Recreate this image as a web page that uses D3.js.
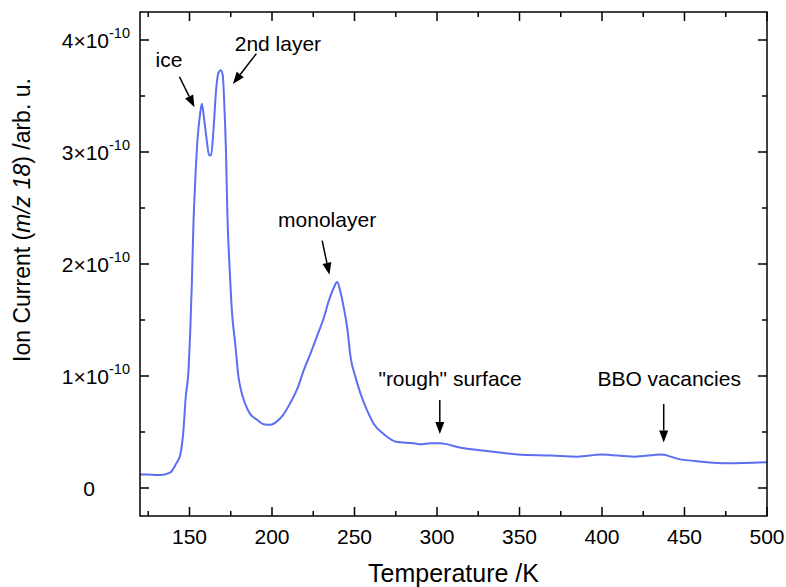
<!DOCTYPE html>
<html>
<head>
<meta charset="utf-8">
<script src="https://cdn.jsdelivr.net/npm/d3@7"></script>
<style>
  body { margin: 0; background: #fff; }
  text { font-family: "Liberation Sans", Arial, sans-serif; fill: #000; }
</style>
</head>
<body>
<svg width="786" height="587"></svg>
<script>
// temperature (K) and ion current (units of 1e-10, arb. u.)
const temps = [120, 125, 130, 135, 137, 139.2, 142, 144.3, 146.3, 147.7, 149.4, 150.4, 151.4, 152.4, 153.4,
  154.8, 156.5, 157.5, 158.9, 160.5, 161.9, 163.1, 164.5, 166.1, 167.6, 169, 170.2, 171, 172.1, 173,
  174.3, 175.7, 177.7, 179.7, 180.8, 183.8, 186.8, 190.9, 194.9, 199, 203, 207.1, 211.1, 215.2, 219.2,
  223.3, 227.4, 231.4, 234.4, 237.5, 239.5, 241.5, 243.5, 245.6, 247.6, 250.6, 253.7, 257.7, 261.8,
  267.8, 276, 286, 290, 296, 301.8, 314.4, 330.6, 348.8, 369.1, 385.3, 399.5, 419.7, 436, 446.1,
  460.2, 476.4, 500];
const current = [0.12, 0.12, 0.115, 0.12, 0.13, 0.15, 0.22, 0.29, 0.51, 0.81, 1.05, 1.38, 1.82, 2.36, 2.72,
  3.10, 3.35, 3.43, 3.29, 3.10, 2.97, 2.97, 3.19, 3.55, 3.71, 3.73, 3.68, 3.46, 3.01, 2.42,
  1.97, 1.58, 1.29, 0.99, 0.90, 0.75, 0.66, 0.61, 0.57, 0.565, 0.595, 0.66, 0.76, 0.88, 1.05,
  1.20, 1.36, 1.52, 1.67, 1.79, 1.84, 1.75, 1.61, 1.43, 1.17, 0.99, 0.84, 0.69, 0.57,
  0.48, 0.41, 0.40, 0.39, 0.40, 0.40, 0.36, 0.33, 0.30, 0.29, 0.28, 0.30, 0.28, 0.30, 0.26,
  0.235, 0.22, 0.23];

const xTicks = [150, 200, 250, 300, 350, 400, 450, 500];
const xMinor = [125, 175, 225, 275, 325, 375, 425, 475];
const yTicks = [0, 1, 2, 3, 4];
const yMinor = [0.5, 1.5, 2.5, 3.5];

// annotation label, label anchor [T, I], arrow start [T, I], arrow tip [T, I]
const notes = [
  { label: "ice", at: [129.4, 3.755], from: [143.9, 3.672], to: [153, 3.40] },
  { label: "2nd layer", at: [177.4, 3.905], from: [190.5, 3.878], to: [176.3, 3.607] },
  { label: "monolayer", at: [203.7, 2.327], from: [230.4, 2.208], to: [234.8, 1.904] },
  { label: "\"rough\" surface", at: [264.5, 0.913], from: [301.7, 0.786], to: [301.7, 0.482] },
  { label: "BBO vacancies", at: [397.2, 0.913], from: [437.4, 0.75], to: [437.4, 0.407] }
];

const svg = d3.select("svg");
const mLeft = 140, mRight = 767, mTop = 12, mBottom = 516;

const x = d3.scaleLinear().domain([120, 500]).range([mLeft, mRight]);
const y = d3.scaleLinear().domain([-0.25, 4.25]).range([mBottom, mTop]);

const data = temps.map((t, i) => ({ t: t, v: current[i] }));

// curve
svg.append("path")
  .datum(data)
  .attr("fill", "none")
  .attr("stroke", "#5a6ff2")
  .attr("stroke-width", 2)
  .attr("stroke-linejoin", "round")
  .attr("d", d3.line().curve(d3.curveMonotoneX).x(d => x(d.t)).y(d => y(d.v)));

// frame ticks (inward on all four sides)
const ticks = svg.append("g").attr("stroke", "#000").attr("stroke-width", 1.5);
const major = 9, minor = 5;
xTicks.concat(xMinor).forEach(t => {
  const len = xTicks.includes(t) ? major : minor;
  ticks.append("line").attr("x1", x(t)).attr("x2", x(t)).attr("y1", mBottom).attr("y2", mBottom - len);
  ticks.append("line").attr("x1", x(t)).attr("x2", x(t)).attr("y1", mTop).attr("y2", mTop + len);
});
yTicks.concat(yMinor).forEach(v => {
  const len = yTicks.includes(v) ? major : minor;
  ticks.append("line").attr("y1", y(v)).attr("y2", y(v)).attr("x1", mLeft).attr("x2", mLeft + len);
  ticks.append("line").attr("y1", y(v)).attr("y2", y(v)).attr("x1", mRight).attr("x2", mRight - len);
});

svg.append("rect")
  .attr("x", mLeft).attr("y", mTop)
  .attr("width", mRight - mLeft).attr("height", mBottom - mTop)
  .attr("fill", "none").attr("stroke", "#000").attr("stroke-width", 1.5);

// tick labels
svg.append("g").selectAll("text")
  .data(xTicks)
  .join("text")
  .attr("x", d => x(d))
  .attr("y", 544)
  .attr("text-anchor", "middle")
  .attr("font-size", 21)
  .text(d => d);

const yl = svg.append("g");
yTicks.forEach(v => {
  if (v === 0) {
    yl.append("text").attr("x", 95).attr("y", y(v) + 7.5)
      .attr("text-anchor", "end").attr("font-size", 21).text("0");
    return;
  }
  const t = yl.append("text").attr("x", 130).attr("y", y(v) + 7.5)
    .attr("text-anchor", "end").attr("font-size", 21);
  t.append("tspan").text(v + "\u00d710");
  t.append("tspan").attr("font-size", 14.5).attr("dy", -9.5).text("-10");
});

// axis titles
svg.append("text")
  .attr("x", (mLeft + mRight) / 2)
  .attr("y", 582)
  .attr("text-anchor", "middle")
  .attr("font-size", 25)
  .text("Temperature /K");

const yt = svg.append("text")
  .attr("transform", "translate(30,220) rotate(-90)")
  .attr("text-anchor", "middle")
  .attr("font-size", 23);
yt.append("tspan").text("Ion Current (");
yt.append("tspan").attr("font-style", "italic").text("m/z 18");
yt.append("tspan").text(") /arb. u.");

// annotations
const ann = svg.append("g");
notes.forEach(n => {
  ann.append("text")
    .attr("x", x(n.at[0])).attr("y", y(n.at[1]))
    .attr("font-size", 21)
    .text(n.label);
  const x0 = x(n.from[0]), y0 = y(n.from[1]), x1 = x(n.to[0]), y1 = y(n.to[1]);
  const ang = Math.atan2(y1 - y0, x1 - x0);
  const hl = 12, hw = 4.5;
  const bx = x1 - hl * Math.cos(ang), by = y1 - hl * Math.sin(ang);
  ann.append("line")
    .attr("x1", x0).attr("y1", y0).attr("x2", bx).attr("y2", by)
    .attr("stroke", "#000").attr("stroke-width", 1.5);
  ann.append("path")
    .attr("d", `M${x1},${y1}L${bx - hw * Math.sin(ang)},${by + hw * Math.cos(ang)}L${bx + hw * Math.sin(ang)},${by - hw * Math.cos(ang)}Z`)
    .attr("fill", "#000");
});
</script>
</body>
</html>
